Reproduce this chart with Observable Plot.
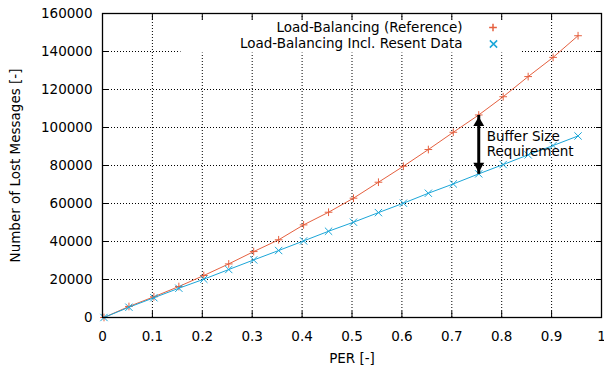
<!DOCTYPE html>
<html><head><meta charset="utf-8">
<script src="https://cdn.jsdelivr.net/npm/d3@7"></script>
<script src="https://cdn.jsdelivr.net/npm/@observablehq/plot@0.6"></script>
<style>body{margin:0;background:#fff;} svg{overflow:visible;}</style>
</head><body><div id="chart"></div>
<script>
const per = [0.003, 0.053, 0.103, 0.153, 0.203, 0.253, 0.303, 0.353, 0.403, 0.453, 0.503, 0.553, 0.603, 0.653, 0.703, 0.754, 0.803, 0.853, 0.903, 0.953];
const lostReference = [0, 5800, 10900, 16300, 22100, 28200, 34700, 40900, 48750, 55400, 62800, 71200, 79600, 88400, 97500, 106600, 116200, 126800, 136900, 148300];
const lostResent = [0, 5400, 10400, 15400, 20150, 25250, 30300, 35250, 40300, 45400, 50150, 55200, 60150, 65400, 70300, 75600, 80500, 85600, 90500, 95550];
const seriesNames = ["Load-Balancing (Reference)", "Load-Balancing Incl. Resent Data"];
const seriesColors = ["#e5603f", "#1ba6d8"];
const xTicks = [0, 0.1, 0.2, 0.3, 0.4, 0.5, 0.6, 0.7, 0.8, 0.9, 1];
const xTickLabels = ["0", "0.1", "0.2", "0.3", "0.4", "0.5", "0.6", "0.7", "0.8", "0.9", "1"];
const xGrid = [0.1, 0.2, 0.3, 0.4, 0.5, 0.6, 0.7, 0.8, 0.9];
const yTicks = [0, 20000, 40000, 60000, 80000, 100000, 120000, 140000, 160000];
const yTickLabels = ["0", "20000", "40000", "60000", "80000", "100000", "120000", "140000", "160000"];
const yGrid = [20000, 40000, 60000, 80000, 100000, 120000, 140000];
const xLabel = "PER [-]";
const yLabel = "Number of Lost Messages [-]";
const annotationLines = ["Buffer Size", "Requirement"];
const arrowIndex = 15;

const refRows = per.map((p, i) => ({per: p, lost: lostReference[i]}));
const resRows = per.map((p, i) => ({per: p, lost: lostResent[i]}));
const arrowRow = [{x: per[arrowIndex], top: lostReference[arrowIndex], bottom: lostResent[arrowIndex]}];

const font = "DejaVu Sans, sans-serif";
const fs = 13.5;

const chart = Plot.plot({
  width: 604,
  height: 369,
  marginLeft: 102,
  marginRight: 3,
  marginTop: 13,
  marginBottom: 52,
  style: {fontFamily: font, fontSize: fs + "px", background: "#fff", color: "#000"},
  x: {domain: [0, 1]},
  y: {domain: [0, 160000]},
  marks: [
    Plot.ruleX(xGrid, {x: d => d, stroke: "#000", strokeDasharray: "1,2", strokeWidth: 1}),
    Plot.ruleY(yGrid, {y: d => d, stroke: "#000", strokeDasharray: "1,2", strokeWidth: 1}),
    Plot.frame({fill: "#fff", stroke: null, insetLeft: 78, insetRight: 80, insetTop: 6, insetBottom: 265}),
    Plot.line(refRows, {x: "per", y: "lost", stroke: seriesColors[0], strokeWidth: 1}),
    Plot.dot(refRows, {x: "per", y: "lost", symbol: "plus", r: 2.6, stroke: seriesColors[0], strokeWidth: 1}),
    Plot.line(resRows, {x: "per", y: "lost", stroke: seriesColors[1], strokeWidth: 1}),
    Plot.dot(resRows, {x: "per", y: "lost", symbol: "times", r: 3.4, stroke: seriesColors[1], strokeWidth: 1}),
    // arrow
    Plot.link(arrowRow, {x1: "x", x2: "x", y1: "top", y2: "bottom", stroke: "#000", strokeWidth: 3}),
    Plot.dot(arrowRow, {x: "x", y: "top", symbol: "triangle2", r: 5.2, fill: "#000", stroke: "none", dy: 8}),
    Plot.dot(arrowRow, {x: "x", y: "bottom", symbol: "triangle2", r: 5.2, fill: "#000", stroke: "none", rotate: 180, dy: -8}),
    Plot.text(arrowRow, {x: "x", y: d => (d.top + d.bottom) / 2, text: () => annotationLines.join("\n"), textAnchor: "start", lineAnchor: "middle", dx: 8, dy: -1, lineHeight: 1.18, fontSize: fs, fill: "#000"}),
    // legend
    Plot.text([seriesNames[0]], {frameAnchor: "top-right", text: d => d, textAnchor: "end", lineAnchor: "middle", dx: -139, dy: 14, fontSize: fs, fill: "#000"}),
    Plot.text([seriesNames[1]], {frameAnchor: "top-right", text: d => d, textAnchor: "end", lineAnchor: "middle", dx: -139, dy: 30.5, fontSize: fs, fill: "#000"}),
    Plot.dot([seriesNames[0]], {frameAnchor: "top-right", symbol: "plus", r: 2.6, stroke: seriesColors[0], dx: -108.5, dy: 14}),
    Plot.dot([seriesNames[1]], {frameAnchor: "top-right", symbol: "times", r: 3.4, stroke: seriesColors[1], dx: -108, dy: 30.5}),
    // axes
    Plot.axisX({anchor: "bottom", ticks: xTicks, tickSize: -6, tickPadding: 20, tickFormat: (d, i) => xTickLabels[i], label: null, fontSize: fs}),
    Plot.axisX({anchor: "top", ticks: xTicks, tickSize: -6, tickFormat: () => "", label: null}),
    Plot.axisY({anchor: "left", ticks: yTicks, tickSize: -6, tickPadding: 16, tickFormat: (d, i) => yTickLabels[i], label: null, fontSize: fs}),
    Plot.axisY({anchor: "right", ticks: yTicks, tickSize: -6, tickFormat: () => "", label: null}),
    Plot.text([xLabel], {frameAnchor: "bottom", text: d => d, textAnchor: "middle", lineAnchor: "middle", dy: 41, fontSize: fs, fill: "#000"}),
    Plot.text([yLabel], {frameAnchor: "left", text: d => d, textAnchor: "middle", lineAnchor: "middle", dx: -87, rotate: -90, fontSize: fs, fill: "#000"}),
    Plot.frame({stroke: "#000", strokeWidth: 1.3})
  ]
});
document.getElementById("chart").appendChild(chart);
</script>
</body></html>
